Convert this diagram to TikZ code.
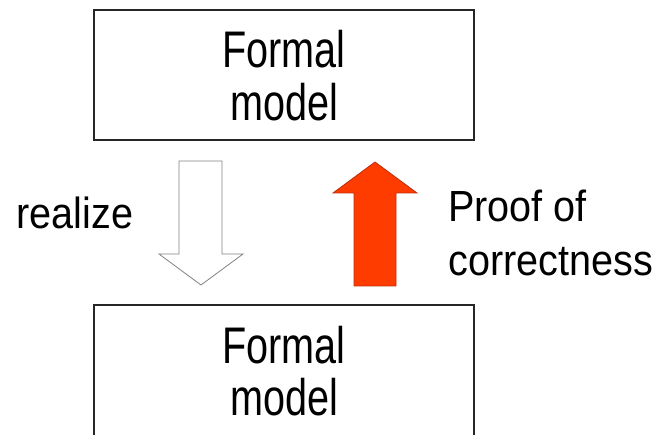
\documentclass[tikz,border=0pt]{standalone}
\usepackage{fontspec}
\usepackage{graphicx}
\setmainfont{Liberation Sans}
\definecolor{arrowred}{RGB}{255,60,0}
\definecolor{arrowredline}{RGB}{190,45,10}
\definecolor{arrowgray}{RGB}{130,130,130}
\newcommand{\boxtext}[1]{\scalebox{1}[1.3]{\begin{tabular}[t]{@{}c@{}}#1\end{tabular}}}
\begin{document}
\begin{tikzpicture}[x=1bp,y=-1bp,
  modelbox/.style={draw=black!85,line width=1.6bp,minimum width=380bp,minimum height=130bp,inner sep=0pt,
    font=\fontsize{39.6bp}{38.5bp}\selectfont},
  lbl/.style={inner sep=0pt,font=\fontsize{39.6bp}{49bp}\selectfont},
  hollowarrow/.style={draw=arrowgray,fill=white,line width=0.8bp,line join=miter},
  redarrow/.style={draw=arrowredline,fill=arrowred,line width=0.8bp,line join=miter}]
\useasboundingbox (0,0) rectangle (659,435);
\node[modelbox] (top) at (284,75) {\raisebox{7bp}[0pt][0pt]{\boxtext{Formal\\model}}};
\node[modelbox,minimum height=134bp] (bot) at (284,372) {\raisebox{9bp}[0pt][0pt]{\boxtext{Formal\\model}}};
% realize arrow (hollow, downward)
\draw[hollowarrow] (179,161) -- (222,161) -- (222,254) -- (243,254) -- (201,285) -- (159,254) -- (179,254) -- cycle;
% proof arrow (red, upward)
\draw[redarrow] (354,286) -- (396,286) -- (396,193) -- (417,193) -- (375,162) -- (333,193) -- (354,193) -- cycle;
\node[lbl,anchor=base] (realize) at (75,229) {\scalebox{1}[1.1]{realize}};
\node[lbl,anchor=base west] (proof) at (448,222) {\scalebox{1}[1.1]{\begin{tabular}[t]{@{}l@{}}Proof of\\correctness\end{tabular}}};
\end{tikzpicture}
\end{document}
